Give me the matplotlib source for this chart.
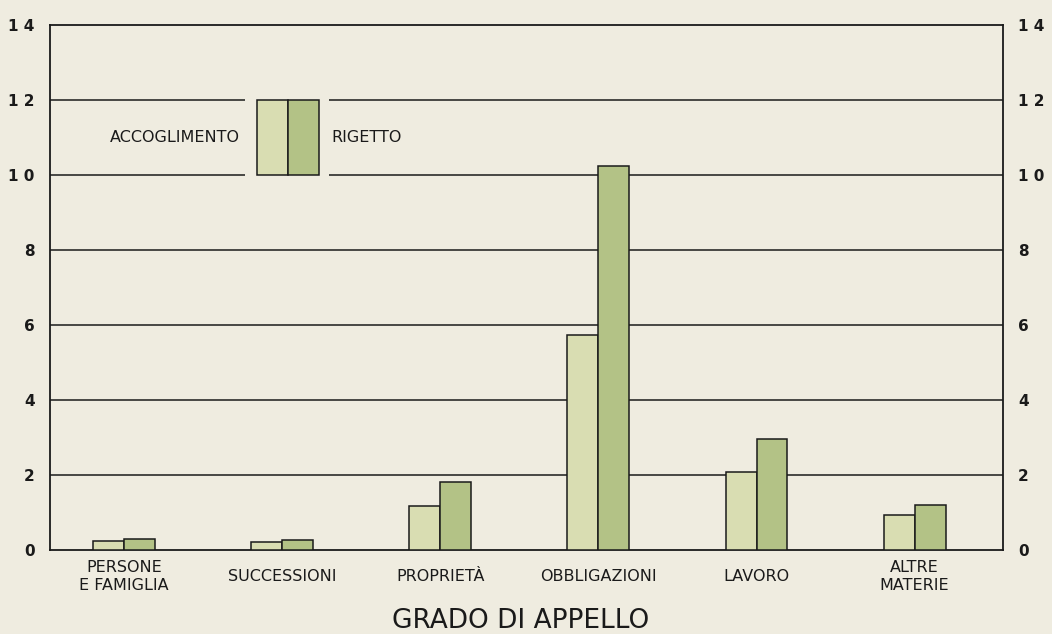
#!/usr/bin/env python3
"""Grado di appello: accoglimento vs rigetto per materia (paired bars)."""

import numpy as np
import matplotlib.pyplot as plt
from matplotlib.patches import Rectangle

# ---- data -------------------------------------------------------------------
CATEGORIES   = ["PERSONE\nE FAMIGLIA", "SUCCESSIONI", "PROPRIETÀ",
                "OBBLIGAZIONI", "LAVORO", "ALTRE\nMATERIE"]
ACCOGLIMENTO = [0.24, 0.20, 1.16, 5.72, 2.09, 0.92]
RIGETTO      = [0.30, 0.26, 1.80, 10.23, 2.95, 1.19]
Y_TICKS      = [0, 2, 4, 6, 8, 10, 12, 14]
Y_LABELS     = ["0", "2", "4", "6", "8", "1 0", "1 2", "1 4"]
SERIES       = ["ACCOGLIMENTO", "RIGETTO"]
X_TITLE      = "GRADO DI APPELLO"

# ---- style ------------------------------------------------------------------
BG    = "#efece0"
LIGHT = "#d9ddb2"
DARK  = "#b3c286"
INK   = "#1a1a1a"

plt.rcParams.update({
    "font.family": ["DejaVu Sans"],
    "font.size":   11,
})

fig = plt.figure(figsize=(10.52, 6.34), dpi=100, facecolor=BG)
ax = fig.add_axes([0.0475, 0.1325, 0.9055, 0.8285])
ax.set_facecolor(BG)

x = np.arange(len(CATEGORIES))
w = 0.196

# gridlines (horizontal rules)
for yv in Y_TICKS[1:-1]:
    ax.axhline(yv, color=INK, lw=1.1, zorder=1)

ax.bar(x - w / 2, ACCOGLIMENTO, w, color=LIGHT, edgecolor=INK, lw=1.1, zorder=3)
ax.bar(x + w / 2, RIGETTO, w, color=DARK, edgecolor=INK, lw=1.1, zorder=3)

ax.set_xlim(-0.468, 5.556)
ax.set_ylim(0, 14)

for s in ax.spines.values():
    s.set_color(INK)
    s.set_linewidth(1.3)

# y labels on both sides, no tick marks
ax.set_yticks(Y_TICKS)
ax.set_yticklabels(Y_LABELS, fontweight="bold", fontsize=11, color=INK)
ax.tick_params(axis="y", length=0, labelright=True)
ax.tick_params(axis="y", which="both", pad=11)
for tick in ax.yaxis.get_major_ticks():
    tick.label1.set_horizontalalignment("right")
    tick.label2.set_horizontalalignment("left")

# category labels
ax.set_xticks(x)
ax.set_xticklabels(CATEGORIES, fontsize=11.5, color=INK, va="center",
                   linespacing=1.3)
ax.tick_params(axis="x", length=0, pad=19)

# ---- legend drawn inside the plot ----
ax.add_patch(Rectangle((0.765, 9.85), 0.53, 2.3, facecolor=BG,
                       edgecolor="none", zorder=2))
ax.add_patch(Rectangle((0.84, 10.0), 0.196, 2.0, facecolor=LIGHT,
                       edgecolor=INK, lw=1.1, zorder=3))
ax.add_patch(Rectangle((1.036, 10.0), 0.196, 2.0, facecolor=DARK,
                       edgecolor=INK, lw=1.1, zorder=3))
ax.text(0.735, 11.0, SERIES[0], ha="right", va="center", fontsize=11.5,
        color=INK, zorder=4)
ax.text(1.31, 11.0, SERIES[1], ha="left", va="center", fontsize=11.5,
        color=INK, zorder=4)

fig.text(0.495, 1 - 621 / 634, X_TITLE, ha="center", va="center",
         fontsize=19, color=INK)

fig.savefig("out.png", dpi=100, facecolor=BG)
